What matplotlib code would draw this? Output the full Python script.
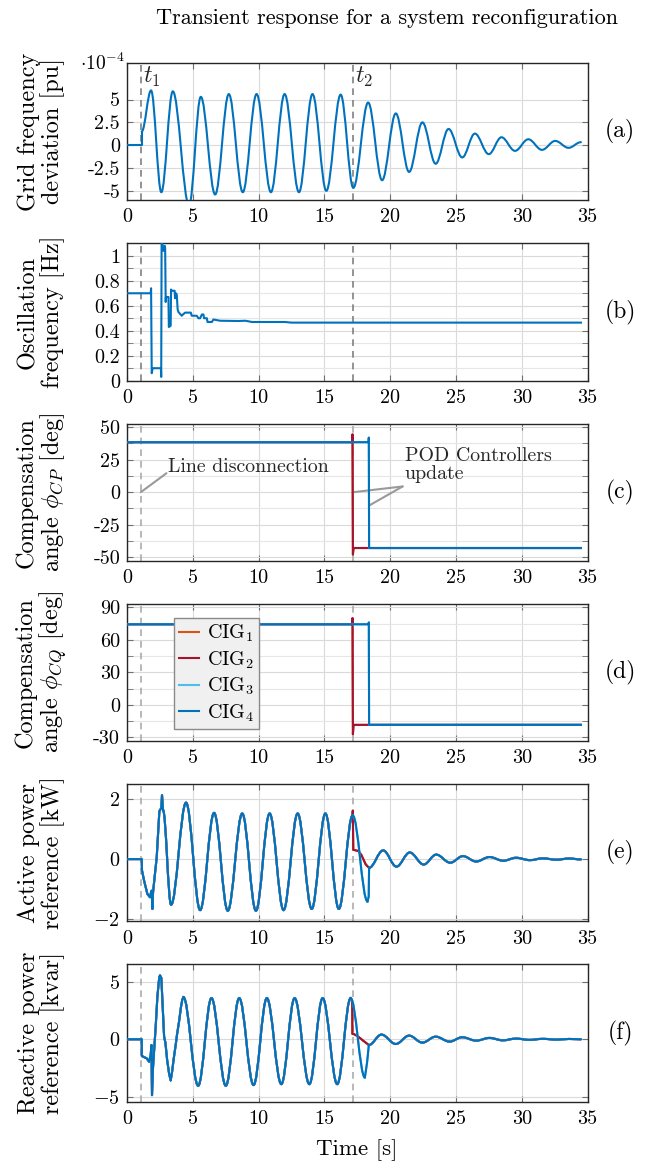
import matplotlib
matplotlib.use('Agg')
import matplotlib.pyplot as plt
from matplotlib.path import Path
from matplotlib.patches import PathPatch
from matplotlib.ticker import MultipleLocator
import matplotlib.transforms as mtransforms

plt.rcParams['font.family'] = 'serif'
plt.rcParams['font.serif'] = ['cmr10', 'DejaVu Serif']
plt.rcParams['mathtext.fontset'] = 'cm'
plt.rcParams['axes.unicode_minus'] = False

# event times
t1 = 1.05
t2 = 17.15

# (a) grid frequency deviation [1e-4 pu] - start and extrema of the oscillation
a_step_t = [0, 1.12, 1.12]
a_step_v = [0, 0, 1.5]
a_ext_t = [1.12, 1.83, 2.61, 3.48, 4.72, 5.61, 6.70, 7.74, 8.80, 9.85, 10.94, 11.98, 13.07, 14.10,
           15.15, 16.24, 17.20, 18.33, 19.39, 20.43, 21.44, 22.45, 23.46, 24.44, 25.48, 26.44,
           27.50, 28.46, 29.49, 30.50, 31.54, 32.55, 33.56, 34.50]
a_ext_v = [1.5, 6.0, -5.15, 5.9, -6.6, 5.3, -5.4, 5.6, -5.15, 5.6, -5.15, 5.6, -5.15, 5.6,
           -5.0, 5.54, -4.67, 4.67, -3.84, 3.48, -2.93, 2.5, -2.03, 1.78, -1.34, 1.27,
           -0.98, 0.87, -0.62, 0.65, -0.51, 0.47, -0.29, 0.33]

# (b) oscillation frequency [Hz]
b_t = [0, 1.80, 1.83, 1.88, 1.95, 2.58, 2.60, 2.63, 2.70, 2.77, 2.80, 2.87, 2.90, 2.94, 2.96, 3.15,
       3.18, 3.32, 3.35, 3.38, 3.62, 3.65, 3.72, 3.78, 3.85, 3.91, 4.16, 4.25, 4.42, 4.85, 4.92,
       5.30, 5.43, 5.56, 5.69, 5.81, 5.86, 6.07, 6.12, 6.45, 6.57, 7.08, 8.5, 9.0, 9.5, 12.0, 12.5, 34.5]
b_v = [0.70, 0.70, 0.74, 0.06, 0.10, 0.10, 0.03, 1.10, 1.09, 1.04, 1.04, 1.08, 1.06, 0.63, 0.67, 0.67,
       0.43, 0.44, 0.73, 0.72, 0.72, 0.66, 0.70, 0.69, 0.57, 0.55, 0.52, 0.53, 0.545, 0.545, 0.52,
       0.52, 0.50, 0.50, 0.53, 0.53, 0.50, 0.50, 0.47, 0.47, 0.49, 0.48, 0.478, 0.48, 0.47, 0.47, 0.465, 0.465]

# (c) compensation angle phi_CP [deg]; fast = CIG1/CIG2, slow = CIG3/CIG4
c_fast_t = [0, 17.12, 17.14, 17.17, 17.22, 34.5]
c_fast_v = [38.5, 38.5, 44.5, -48, -43, -43]
c_slow_t = [0, 18.36, 18.38, 18.40, 34.5]
c_slow_v = [38.5, 38.5, 42.0, -43, -43]

# (d) compensation angle phi_CQ [deg]
d_fast_t = [0, 17.12, 17.14, 17.17, 17.22, 34.5]
d_fast_v = [74.3, 74.3, 80, -27, -18.4, -18.4]
d_slow_t = [0, 18.36, 18.38, 18.40, 34.5]
d_slow_v = [74.3, 74.3, 76, -18.4, -18.4]

# (e) active power reference [kW]
e_start_t = [0, 1.12, 1.14, 1.30, 1.55, 1.75, 1.83, 1.88, 1.93, 1.98, 2.26, 2.46, 2.61, 2.66, 2.74]
e_start_v = [0, 0, -0.38, -0.72, -1.16, -1.27, -1.10, -1.05, -1.66, -1.10, 0.07, 1.60, 1.70, 2.13, 1.63]
e_ext_t = [2.74, 3.35, 4.49, 5.56, 6.62, 7.66, 8.76, 9.80, 10.84, 11.90, 12.97, 14.04, 15.08, 16.10, 17.15]
e_ext_v = [1.63, -1.52, 1.88, -1.70, 1.54, -1.72, 1.52, -1.72, 1.52, -1.70, 1.52, -1.66, 1.52, -1.66, 1.46]
e_slow_ext_t = [17.15, 18.28]
e_slow_ext_v = [1.46, -1.41]
e_slow_t = [18.28, 18.37, 18.40]
e_slow_v = [-1.41, -1.25, -0.29]
e_fast_t = [17.15, 17.16, 17.20, 17.58, 17.80, 17.95, 18.15, 18.40]
e_fast_v = [1.46, 1.61, 0.31, 0.27, 0.15, 0.01, -0.18, -0.29]
e_tail_t = [18.40, 19.47, 20.48, 21.49, 22.55, 23.50, 24.57, 25.53, 26.54, 27.55, 28.60, 29.57,
            30.63, 31.60, 32.65, 33.60, 34.50]
e_tail_v = [-0.29, 0.29, -0.25, 0.22, -0.18, 0.15, -0.12, 0.10, -0.08, 0.07, -0.055, 0.045,
            -0.035, 0.025, -0.02, 0.02, -0.01]

# (f) reactive power reference [kvar]
f_start_t = [0, 1.12, 1.13, 1.50, 1.68, 1.80, 1.86, 1.90, 1.98, 2.18, 2.31, 2.45, 2.51, 2.61, 2.82,
             2.92, 3.05, 3.20, 3.32, 3.42, 3.55, 3.70, 3.80, 3.95, 4.10, 4.20, 4.29]
f_start_v = [0, 0, -1.46, -1.67, -1.96, -1.37, -0.50, -4.88, -2.40, 1.10, 3.74, 5.40, 5.58, 5.35, 0.23,
             -0.30, -1.80, -3.00, -3.60, -2.90, -1.70, -0.50, 0.40, 1.50, 2.80, 3.45, 3.68]
f_ext_t = [4.29, 5.41, 6.42, 7.51, 8.53, 9.62, 10.63, 11.73, 12.74, 13.86, 14.87, 15.98, 17.00]
f_ext_v = [3.68, -4.06, 3.6, -4.06, 3.6, -4.0, 3.6, -3.92, 3.6, -3.92, 3.6, -3.92, 3.6]
f_slow_ext_t = [17.00, 18.08]
f_slow_ext_v = [3.6, -3.33]
f_slow_t = [18.08, 18.25, 18.38]
f_slow_v = [-3.33, -2.0, -0.5]
f_fast_t = [17.00, 17.08, 17.12, 17.13, 17.27, 17.58, 17.95, 18.38]
f_fast_v = [3.6, 3.45, 3.0, 0.47, 0.44, 0.23, -0.12, -0.5]
f_tail_t = [18.38, 19.34, 20.43, 21.44, 22.45, 23.46, 24.52, 25.48, 26.54, 27.55, 28.56, 29.57,
            30.60, 31.60, 32.65, 33.60, 34.50]
f_tail_v = [-0.5, 0.41, -0.41, 0.32, -0.29, 0.23, -0.2, 0.18, -0.12, 0.12, -0.09, 0.06,
            -0.05, 0.04, -0.03, 0.03, 0.0]

names = ['CIG$_1$', 'CIG$_2$', 'CIG$_3$', 'CIG$_4$']
colors = ['#D95319', '#A2142F', '#4DBEEE', '#0072BD']
LW = 1.5


def wave(ax, t, v, color, z):
    # smooth curve through successive extrema (cubic bezier, flat at each extremum)
    verts = [(t[0], v[0])]
    codes = [Path.MOVETO]
    for i in range(1, len(t)):
        dt = t[i] - t[i - 1]
        verts += [(t[i - 1] + 0.364 * dt, v[i - 1]), (t[i] - 0.364 * dt, v[i]), (t[i], v[i])]
        codes += [Path.CURVE4] * 3
    ax.add_patch(PathPatch(Path(verts, codes), fill=False, edgecolor=color, lw=LW, zorder=z,
                           joinstyle='round', capstyle='round'))


fig = plt.figure(figsize=(6.49, 11.65), dpi=100)
W, H = 649.0, 1165.0
left, right = 127, 587.5
tops = [63, 243.3, 424, 604, 784, 964.3]
bots = [200, 380.7, 561, 740.7, 921.3, 1101.7]
axs = [fig.add_axes([left / W, 1 - b / H, (right - left) / W, (b - t) / H]) for t, b in zip(tops, bots)]

ylabels = ['Grid frequency\ndeviation [pu]', 'Oscillation\nfrequency [Hz]',
           'Compensation\nangle $\\phi_{CP}$ [deg]', 'Compensation\nangle $\\phi_{CQ}$ [deg]',
           'Active power\nreference [kW]', 'Reactive power\nreference [kvar]']
ylims = [(-6, 9), (0, 1.1), (-53, 52.5), (-33, 93), (-2.07, 2.5), (-5.45, 6.55)]
yticks = [[-5, -2.5, 0, 2.5, 5], [0, 0.2, 0.4, 0.6, 0.8, 1], [-50, -25, 0, 25, 50],
          [-30, 0, 30, 60, 90], [-2, 0, 2], [-5, 0, 5]]
ytlabels = [['-5', '-2.5', '0', '2.5', '5'], ['0', '0.2', '0.4', '0.6', '0.8', '1'],
            ['-50', '-25', '0', '25', '50'], ['-30', '0', '30', '60', '90'],
            ['$-2$', '$0$', '$2$'], ['$-5$', '$0$', '$5$']]
minors = [None, 0.1, 12.5, 15, None, None]
tags = ['(a)', '(b)', '(c)', '(d)', '(e)', '(f)']
dash_col = ['#808080', '#808080', '#ababab', '#ababab', '#ababab', '#ababab']

for i, ax in enumerate(axs):
    ax.set_xlim(0, 35)
    ax.set_ylim(*ylims[i])
    ax.set_xticks(range(0, 36, 5))
    ax.set_yticks(yticks[i])
    ax.set_yticklabels(ytlabels[i])
    if minors[i]:
        ax.yaxis.set_minor_locator(MultipleLocator(minors[i]))
        ax.grid(True, which='minor', axis='y', color='#e6e6e6', lw=0.8)
    ax.grid(True, which='major', color='#dadada', lw=0.8)
    ax.set_axisbelow(True)
    ax.tick_params(which='both', direction='in', top=True, right=True, length=4,
                   color='#707070', labelsize=14.5, pad=5)
    ax.tick_params(axis='x', pad=6)
    for s in ax.spines.values():
        s.set_color('#262626')
        s.set_linewidth(1.0)
    ax.text(-0.186, 0.5, ylabels[i], transform=ax.transAxes, rotation=90, ha='center',
            va='center', multialignment='center', fontsize=17.5, linespacing=1.05)
    ax.text(1.071, 0.5, tags[i], transform=ax.transAxes, ha='center', va='center', fontsize=17)
    ax.axvline(t1, color=dash_col[i], lw=1.2, ls=(0, (4, 3)), zorder=1.5)
    ax.axvline(t2, color=dash_col[i], lw=1.2, ls=(0, (4, 3)), zorder=1.5)

# (a)
ax = axs[0]
ax.plot(a_step_t, a_step_v, color=colors[3], lw=LW, zorder=3)
wave(ax, a_ext_t, a_ext_v, colors[3], 3)
trans = mtransforms.blended_transform_factory(ax.transData, ax.transAxes)
ax.text(1.25, 0.985, '$t_1$', transform=trans, ha='left', va='top', fontsize=17, color='#262626')
ax.text(17.35, 0.985, '$t_2$', transform=trans, ha='left', va='top', fontsize=17, color='#262626')
ax.text(-0.004, 1.0, '$\\cdot 10^{-4}$', transform=ax.transAxes, ha='right', va='center', fontsize=14)

# (b)
axs[1].plot(b_t, b_v, color=colors[3], lw=LW, zorder=3)

# (c), (d)
for ax, ft, fv, st, sv in [(axs[2], c_fast_t, c_fast_v, c_slow_t, c_slow_v),
                           (axs[3], d_fast_t, d_fast_v, d_slow_t, d_slow_v)]:
    for k in range(4):
        if k < 2:
            ax.plot(ft, fv, color=colors[k], lw=LW, zorder=3 + k * 0.1, label=names[k])
        else:
            ax.plot(st, sv, color=colors[k], lw=LW, zorder=3 + k * 0.1, label=names[k])

ax = axs[2]
ax.text(3.1, 19.3, 'Line disconnection', ha='left', va='center', fontsize=14.3, color='#262626')
ax.annotate('', xy=(t1, 0), xytext=(3.0, 14.6),
            arrowprops=dict(arrowstyle='-', color='#9a9a9a', lw=1.5, shrinkA=0, shrinkB=0))
ax.text(21.1, 20.6, 'POD Controllers\nupdate', ha='left', va='center', fontsize=14.3,
        color='#262626', linespacing=1.0)
for xy in [(17.2, 0), (18.4, -10.3)]:
    ax.annotate('', xy=xy, xytext=(20.95, 4.4),
                arrowprops=dict(arrowstyle='-', color='#9a9a9a', lw=1.5, shrinkA=0, shrinkB=0))

axs[3].legend(loc='upper left', bbox_to_anchor=(0.102, 0.898), fancybox=False, edgecolor='#8a8a8a',
              facecolor='#f0f0f0', framealpha=1, handlelength=1.0, handletextpad=0.4,
              borderpad=0.25, borderaxespad=0, fontsize=14.5, labelspacing=0.25)

# (e), (f)
for ax, p in [(axs[4], 'e'), (axs[5], 'f')]:
    g = globals()
    for k in range(4):
        z = 3 + k * 0.1
        ax.plot(g[p + '_start_t'], g[p + '_start_v'], color=colors[k], lw=LW, zorder=z)
        wave(ax, g[p + '_ext_t'], g[p + '_ext_v'], colors[k], z)
        if k < 2:
            ax.plot(g[p + '_fast_t'], g[p + '_fast_v'], color=colors[k], lw=LW, zorder=z)
        else:
            wave(ax, g[p + '_slow_ext_t'], g[p + '_slow_ext_v'], colors[k], z)
            ax.plot(g[p + '_slow_t'], g[p + '_slow_v'], color=colors[k], lw=LW, zorder=z)
        wave(ax, g[p + '_tail_t'], g[p + '_tail_v'], colors[k], z)

fig.text(387 / W, 1 - 18 / H, 'Transient response for a system reconfiguration', ha='center',
         va='center', fontsize=16)
fig.text(357 / W, 1 - 1150 / H, 'Time [s]', ha='center', va='center', fontsize=16.5)

fig.savefig('out.png', dpi=100)
